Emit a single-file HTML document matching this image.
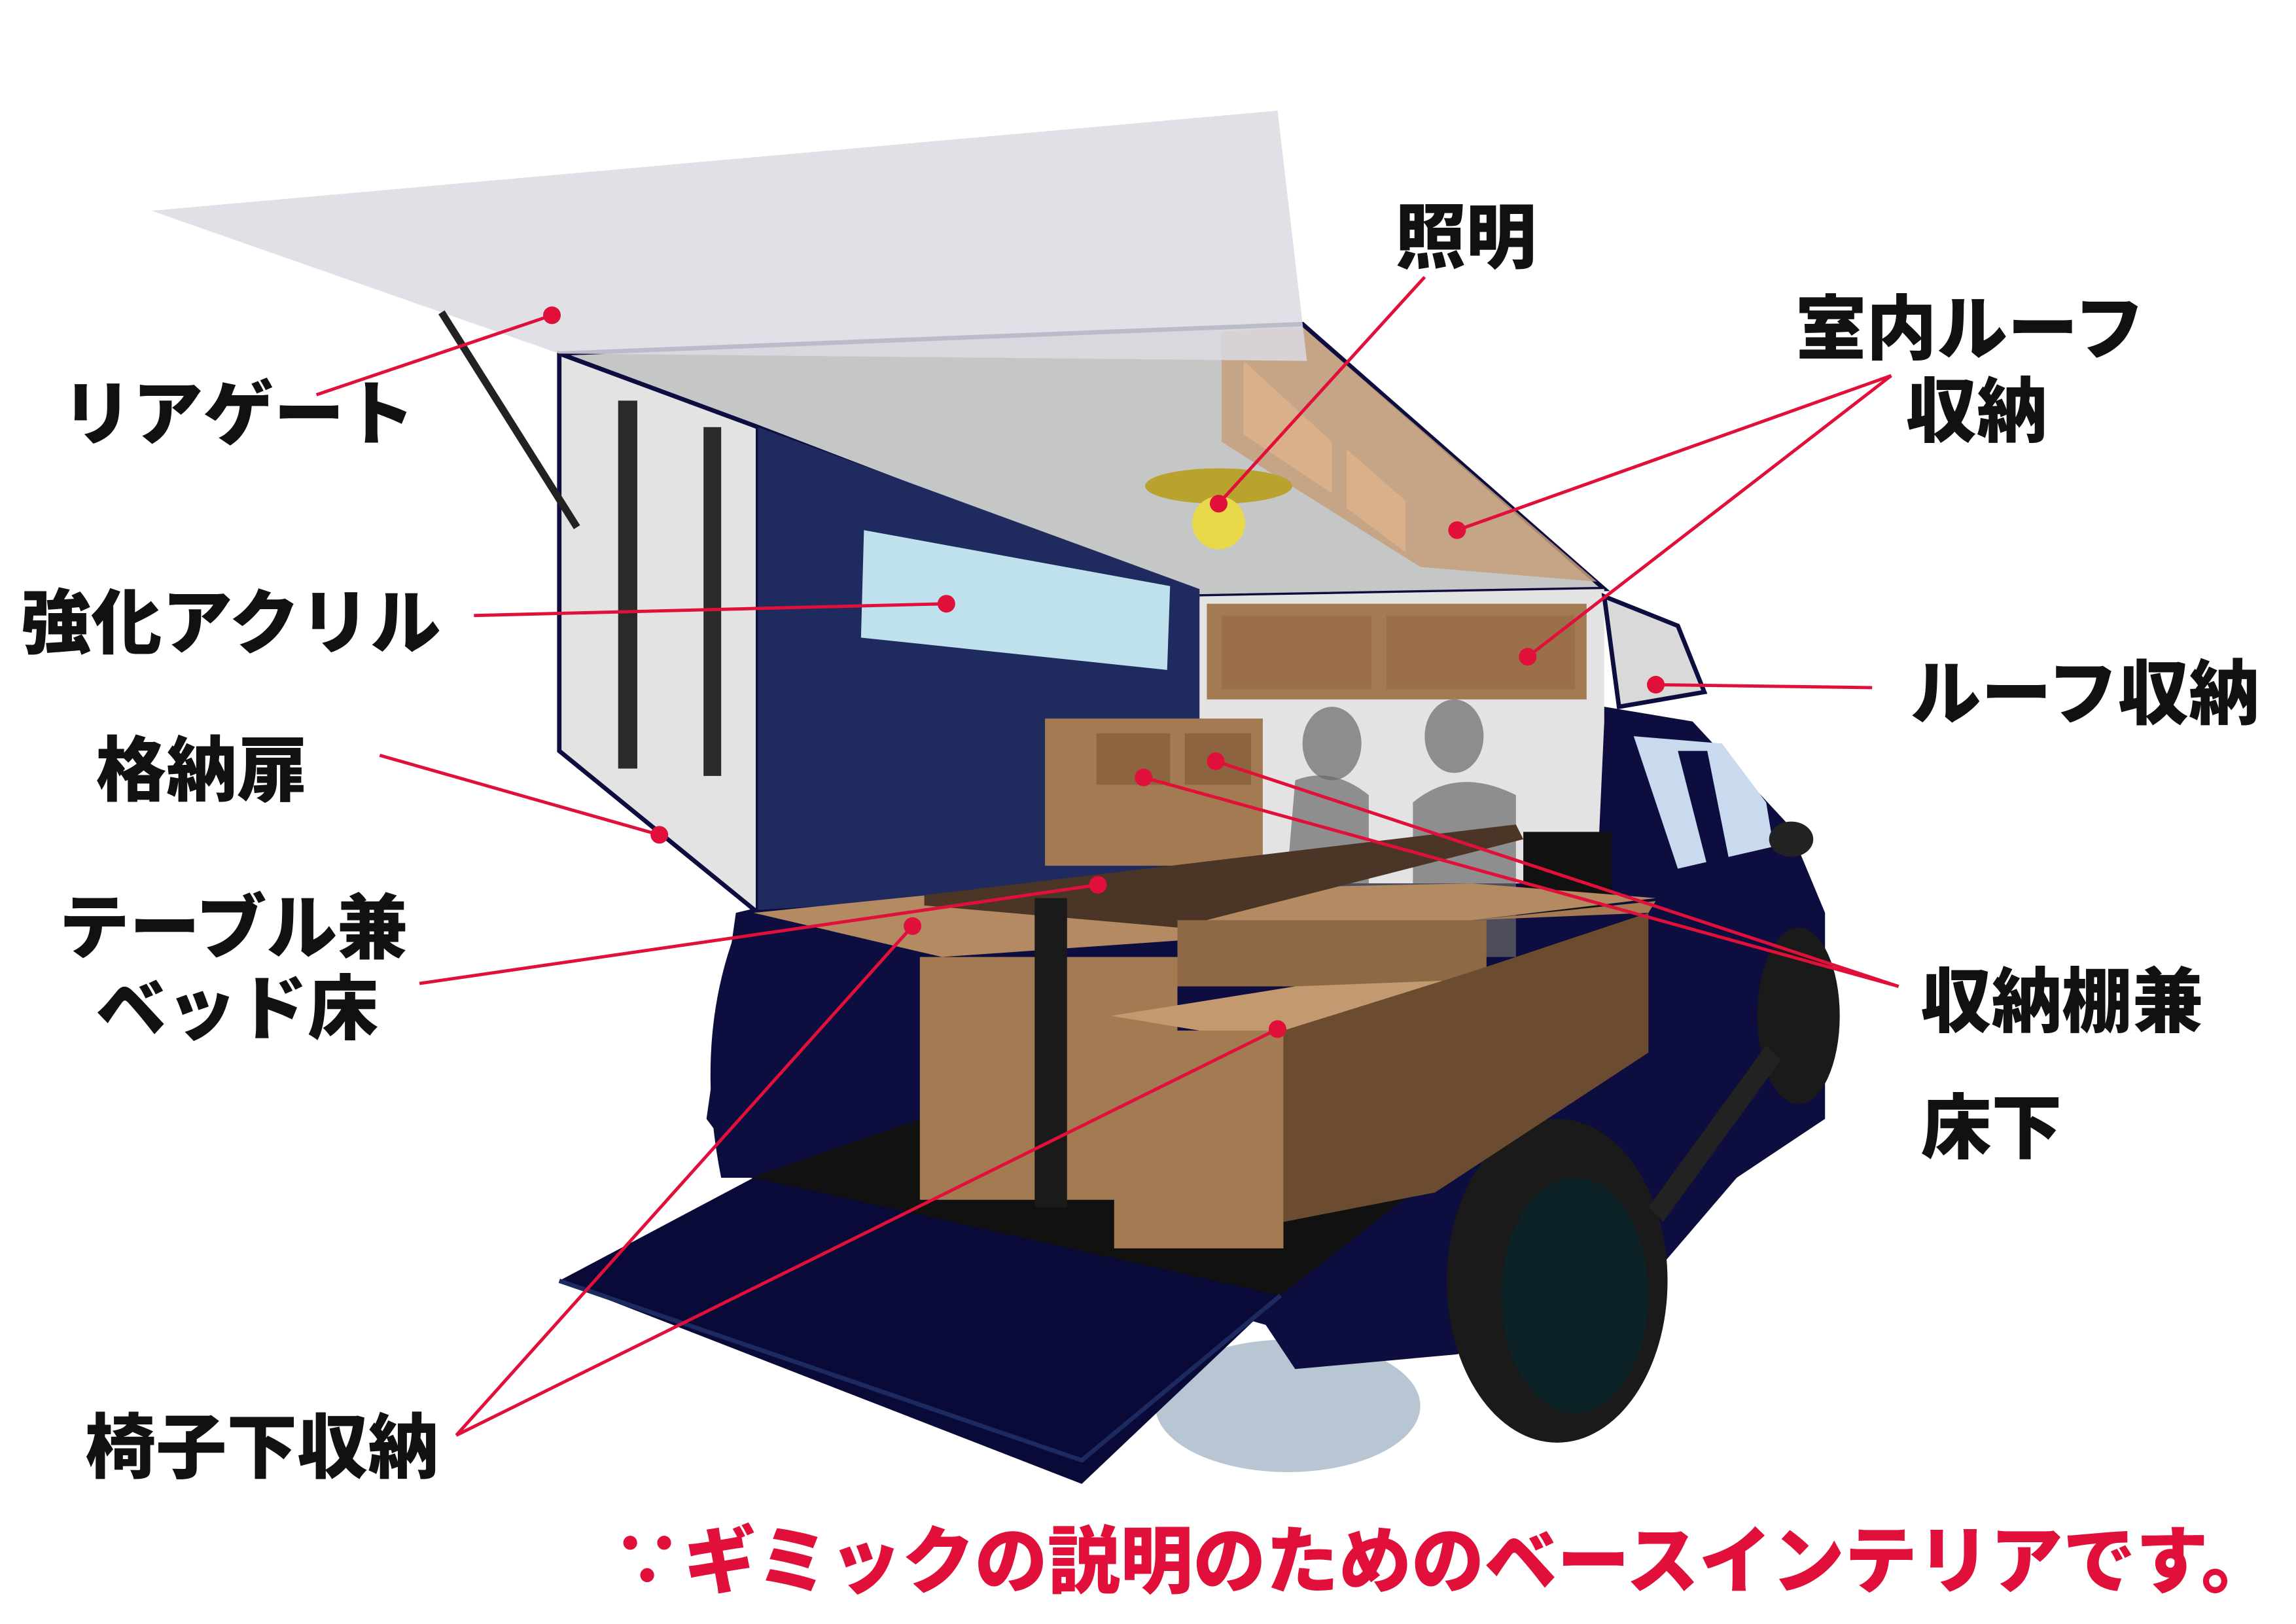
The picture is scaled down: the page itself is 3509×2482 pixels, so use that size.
<!DOCTYPE html>
<html><head><meta charset="utf-8"><style>
html,body{margin:0;padding:0;background:#fff;}
svg{display:block;}
text{font-family:"Liberation Sans","Noto Sans CJK JP",sans-serif;font-weight:900;}
</style></head><body>
<svg width="3509" height="2482" viewBox="0 0 1560 1103" xmlns="http://www.w3.org/2000/svg">
<rect width="1560" height="1103" fill="#fff"/>
<!-- bumper -->
<ellipse cx="875" cy="955" rx="90" ry="45" fill="#b7c6d2"/>
<!-- truck body -->
<path d="M500 620 L1090 480 L1150 490 L1215 560 L1240 620 L1240 760 L1180 800 L1120 870 L1050 900 L990 920 L880 930 L860 900 L510 800 L480 760 Z" fill="#0d0d3f"/>
<path d="M505 620 Q470 700 490 800 L515 800 Z" fill="#0d0d3f"/>
<!-- cab window -->
<path d="M1110 500 L1170 505 L1200 545 L1205 575 L1140 590 Z" fill="#c9d9ee"/>
<path d="M1140 510 L1160 510 L1175 585 L1160 588 Z" fill="#0d0d3f"/>
<ellipse cx="1217" cy="570" rx="15" ry="12" fill="#222"/>
<!-- wheels -->
<ellipse cx="1058" cy="870" rx="75" ry="110" fill="#1a1a1a"/>
<ellipse cx="1070" cy="880" rx="50" ry="80" fill="#0c2226"/>
<ellipse cx="1222" cy="690" rx="28" ry="60" fill="#1a1a1a"/>
<path d="M1120 820 L1200 710 L1210 720 L1130 830 Z" fill="#222"/>
<!-- shell back interior -->
<path d="M380 240 L885 220 L1090 400 L815 405 L515 290 Z" fill="#c5c7c6" stroke="#0d0d3f" stroke-width="3"/>
<path d="M815 405 L1090 400 L1090 490 L1085 600 L815 600 Z" fill="#e3e3e3"/>
<path d="M1090 405 L1140 425 L1158 470 L1100 480 Z" fill="#d9d9d9" stroke="#0d0d3f" stroke-width="3"/>
<!-- roof storage (interior) -->
<path d="M830 225 L885 222 L1085 395 L965 385 L830 300 Z" fill="#c69e7a" opacity="0.85"/>
<path d="M845 245 L905 300 L905 335 L845 295 Z" fill="#d9b08a"/>
<path d="M915 305 L955 340 L955 375 L915 345 Z" fill="#d9b08a"/>
<!-- front roof cabinet -->
<rect x="820" y="410" width="258" height="65" fill="#a47a52"/>
<rect x="830" y="418" width="102" height="50" fill="#9b7048"/>
<rect x="942" y="418" width="128" height="50" fill="#9b7048"/>
<!-- left panel -->
<path d="M380 240 L515 290 L515 620 L380 510 Z" fill="#e2e3e2" stroke="#0d0d3f" stroke-width="3"/>
<rect x="420" y="272" width="13" height="250" fill="#2a2a2a"/>
<rect x="478" y="290" width="12" height="237" fill="#2a2a2a"/>
<!-- navy side -->
<path d="M515 290 L815 400 L815 600 L515 618 Z" fill="#1f2a5e"/>
<path d="M587 360 L795 398 L793 455 L585 433 Z" fill="#bfe1ed"/>
<!-- gate -->
<path d="M103 143 L868 75 L888 245 L380 240 L300 212 Z" fill="#dadae2" opacity="0.85"/>
<line x1="300" y1="212" x2="392" y2="358" stroke="#222" stroke-width="5"/>
<!-- lamp -->
<ellipse cx="828" cy="330" rx="50" ry="12" fill="#b9a22d"/>
<circle cx="828" cy="355" r="18" fill="#e8d94a"/>
<!-- shelf unit -->
<rect x="710" y="488" width="148" height="100" fill="#a47a52"/>
<rect x="745" y="498" width="50" height="35" fill="#8c6540"/>
<rect x="805" y="498" width="45" height="35" fill="#8c6540"/>
<!-- people silhouettes -->
<ellipse cx="905" cy="505" rx="20" ry="25" fill="#777" opacity="0.8"/>
<ellipse cx="988" cy="500" rx="20" ry="25" fill="#777" opacity="0.8"/>
<path d="M880 530 Q905 520 930 540 L930 600 L960 600 L960 545 Q990 520 1030 540 L1030 650 L870 650 Z" fill="#6a6a6a" opacity="0.7"/>
<rect x="1035" y="565" width="60" height="55" fill="#111"/>
<!-- floor -->
<path d="M510 800 L625 760 L960 810 L870 880 Z" fill="#111"/>
<!-- table/bed -->
<path d="M512 620 L630 608 L1000 600 L1125 610 L1000 625 L640 650 Z" fill="#b38a62"/>
<path d="M628 608 L1030 560 L1035 570 L800 630 L628 615 Z" fill="#4a3527"/>
<rect x="625" y="650" width="175" height="165" fill="#a47a52"/>
<rect x="800" y="625" width="210" height="45" fill="#8f6845"/>
<rect x="703" y="610" width="22" height="210" fill="#1a1a1a"/>
<path d="M755 690 L880 670 L1010 665 L935 720 Z" fill="#c39a70"/>
<rect x="757" y="700" width="115" height="148" fill="#a47a52"/>
<path d="M872 700 L1000 660 L1120 620 L1120 715 L975 810 L872 830 Z" fill="#6b4c31"/>
<path d="M1000 625 L1125 612 L1120 620 Z" fill="#a47a52"/>
<!-- tailgate -->
<path d="M380 870 L512 800 L870 880 L735 1008 Z" fill="#0a0a38"/>
<path d="M380 870 L735 992 L870 880" fill="none" stroke="#1c2a60" stroke-width="3"/>

<!-- leader lines -->
<g stroke="#e0103a" stroke-width="2.2" fill="none">
<line x1="215" y1="268" x2="375" y2="214"/>
<line x1="968" y1="188" x2="828" y2="342"/>
<line x1="1285" y1="255" x2="990" y2="360"/>
<line x1="1285" y1="255" x2="1038" y2="446"/>
<line x1="322" y1="418" x2="643" y2="410"/>
<line x1="1272" y1="467" x2="1125" y2="465"/>
<line x1="258" y1="513" x2="448" y2="567"/>
<line x1="285" y1="668" x2="746" y2="601"/>
<line x1="1290" y1="670" x2="777" y2="528"/>
<line x1="1290" y1="670" x2="826" y2="517"/>
<line x1="310" y1="975" x2="620" y2="629"/>
<line x1="310" y1="975" x2="868" y2="699"/>
</g>
<g fill="#e0103a">
<circle cx="375" cy="214" r="6"/><circle cx="828" cy="342" r="6"/>
<circle cx="990" cy="360" r="6"/><circle cx="1038" cy="446" r="6"/>
<circle cx="643" cy="410" r="6"/><circle cx="1125" cy="465" r="6"/>
<circle cx="448" cy="567" r="6"/><circle cx="746" cy="601" r="6"/>
<circle cx="777" cy="528" r="6"/><circle cx="826" cy="517" r="6"/>
<circle cx="620" cy="629" r="6"/><circle cx="868" cy="699" r="6"/>
</g>
<!-- labels -->
<g font-size="48" fill="#111">
<text x="42" y="298">リアゲート</text>
<text x="948" y="178">照明</text>
<text x="1220" y="240">室内ルーフ</text>
<text x="1295" y="296">収納</text>
<text x="14" y="440">強化アクリル</text>
<text x="1298" y="488">ルーフ収納</text>
<text x="65" y="540">格納扉</text>
<text x="40" y="647">テーブル兼</text>
<text x="65" y="702">ベッド床</text>
<text x="1305" y="697">収納棚兼</text>
<text x="1305" y="783">床下</text>
<text x="58" y="1000">椅子下収納</text>
</g>
<text x="415" y="1078" font-size="50" fill="#e0103a" textLength="1130" lengthAdjust="spacingAndGlyphs">∵ギミックの説明のためのベースインテリアです。</text>
</svg>
</body></html>
